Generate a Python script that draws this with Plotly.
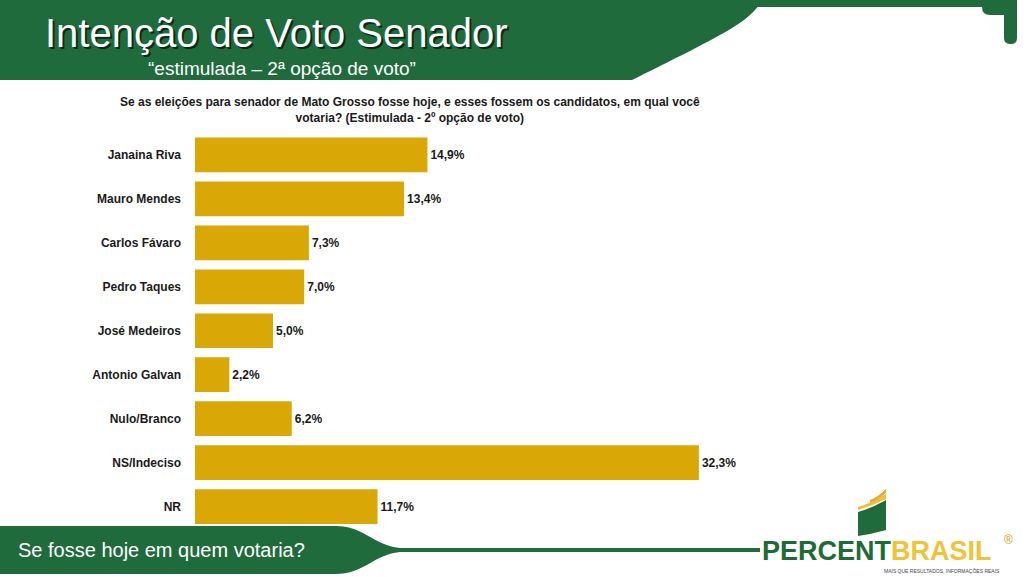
import plotly.graph_objects as go

# survey data
candidates = ["Janaina Riva", "Mauro Mendes", "Carlos Fávaro", "Pedro Taques",
              "José Medeiros", "Antonio Galvan", "Nulo/Branco", "NS/Indeciso", "NR"]
votes = [14.9, 13.4, 7.3, 7.0, 5.0, 2.2, 6.2, 32.3, 11.7]

title = "Intenção de Voto Senador"
subtitle = "“estimulada – 2ª opção de voto”"
question = ("Se as eleições para senador de Mato Grosso fosse hoje, e esses fossem os candidatos, em qual você"
            "<br>votaria? (Estimulada - 2º opção de voto)")
footer = "Se fosse hoje em quem votaria?"

W, H = 1024, 577
GREEN = "#1f6b3b"
GOLD = "#d9a806"
FONT = "Liberation Sans, Arial"


def px(x, y):
    # pixel -> paper coords (margins are zero so paper == whole page)
    return x / W, 1 - y / H


def path(cmds):
    out = []
    for c in cmds:
        if isinstance(c, str):
            out.append(c)
        else:
            xx, yy = px(*c)
            out.append(f"{xx:.5f},{yy:.5f}")
    return " ".join(out)


fig = go.Figure()
fig.add_trace(go.Bar(
    x=votes, y=candidates, orientation="h",
    marker=dict(color=GOLD, line=dict(width=0)),
    width=0.79,
    texttemplate="<b>%{x:.1f}%</b>", textposition="outside",
    textfont=dict(family=FONT, size=12, color="#1a1a1a"),
    cliponaxis=False, hoverinfo="skip",
))

shapes = []
# header band with curved right edge
shapes.append(dict(type="path", xref="paper", yref="paper", line_width=0, fillcolor=GREEN, layer="below",
                   path=path(["M", (0, 0), "L", (762, 0), "C", (752, 20), (722, 34), (692, 50),
                              "C", (668, 62), (648, 72), (632, 80), "L", (0, 80), "Z"])))
shapes.append(dict(type="rect", xref="paper", yref="paper", line_width=0, fillcolor=GREEN, layer="below",
                   x0=px(0, 0)[0], x1=px(1000, 0)[0], y0=px(0, 7)[1], y1=px(0, 0)[1]))
# hook top right
shapes.append(dict(type="path", xref="paper", yref="paper", line_width=0, fillcolor=GREEN, layer="below",
                   path=path(["M", (982, 0), "L", (1017, 0), "L", (1017, 38), "Q", (1017, 44), (1011, 44),
                              "Q", (1004, 44), (1004, 38), "L", (1004, 15), "L", (990, 15),
                              "Q", (982, 15), (982, 7), "Z"])))
# footer banner tapering into a line
shapes.append(dict(type="path", xref="paper", yref="paper", line_width=0, fillcolor=GREEN, layer="below",
                   path=path(["M", (0, 526), "L", (335, 526), "C", (365, 526), (372, 545), (400, 548),
                              "L", (760, 548), "L", (760, 552), "L", (400, 552),
                              "C", (372, 555), (365, 574), (335, 574), "L", (0, 574), "Z"])))
# logo mark
shapes.append(dict(type="path", xref="paper", yref="paper", line_width=0, fillcolor=GREEN,
                   path=path(["M", (858, 512), "Q", (872, 508), (886, 500), "L", (886, 530),
                              "Q", (872, 534), (858, 536), "Z"])))
shapes.append(dict(type="path", xref="paper", yref="paper", line_width=0, fillcolor="#f0c030",
                   path=path(["M", (858, 507), "Q", (872, 503), (886, 494), "L", (886, 499),
                              "Q", (872, 506), (858, 510), "Z"])))
shapes.append(dict(type="path", xref="paper", yref="paper", line_width=0, fillcolor="#e8a83a",
                   path=path(["M", (870, 500), "Q", (878, 497), (886, 489), "L", (886, 493),
                              "Q", (878, 500), (870, 503), "Z"])))

ann = []


def note(x, y, text, size, color, xanchor="left", **kw):
    xx, yy = px(x, y)
    ann.append(dict(x=xx, y=yy, xref="paper", yref="paper", text=text, showarrow=False,
                    xanchor=xanchor, yanchor="middle", font=dict(size=size, color=color, family=FONT), **kw))


note(45, 35, title, 40, "#0b2a16")  # shadow
note(43, 33, title, 40, "#ffffff")
note(146, 68, subtitle, 19, "#ffffff")
note(410, 110, "<b>" + question + "</b>", 12, "#1a1a1a", xanchor="center", align="center")
note(16, 550, footer, 20, "#ffffff")
note(760, 551, "<b><span style='color:#1d6b35'>PERCENT</span><span style='color:#f0c33a'>BRASIL</span></b>",
     27, GREEN)
note(1008, 540, "®", 12, "#d9a020", xanchor="center")
note(942, 571, "MAIS QUE RESULTADOS, INFORMAÇÕES REAIS", 5, "#444444", xanchor="center")

fig.update_layout(
    width=W, height=H,
    margin=dict(l=0, r=0, t=0, b=0),
    paper_bgcolor="white", plot_bgcolor="white",
    separators=",.",
    showlegend=False,
    shapes=shapes, annotations=ann,
    xaxis=dict(domain=[195 / W, 819 / W], range=[0, 40], visible=False, fixedrange=True),
    yaxis=dict(domain=[1 - 528.5 / H, 1 - 133 / H], categoryorder="array", categoryarray=candidates,
               autorange="reversed", showgrid=False, showline=False, zeroline=False,
               ticks="", ticklabelstandoff=13, fixedrange=True,
               tickprefix="<b>", ticksuffix="</b>",
               tickfont=dict(family=FONT, size=12, color="#1a1a1a")),
)

fig.write_html("out.html", config={"displayModeBar": False},
               post_script="document.body.style.margin='0';")
